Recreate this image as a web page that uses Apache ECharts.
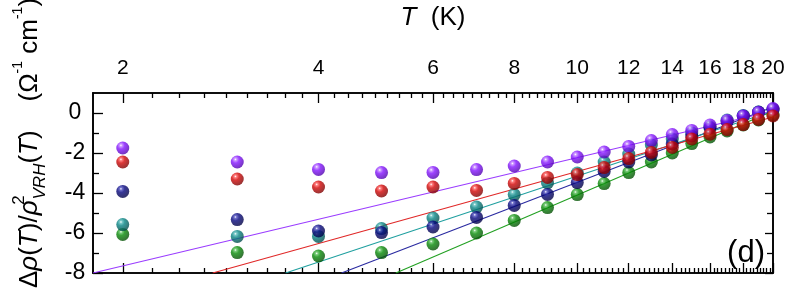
<!DOCTYPE html>
<html><head><meta charset="utf-8">
<script src="https://cdn.jsdelivr.net/npm/echarts@6/dist/echarts.min.js"></script>
<style>html,body{margin:0;padding:0;background:#fff}#c{width:789px;height:289px}</style>
</head><body><div id="c"></div>
<script>
// ---- data (T in K) ----
const temps = [2,3,4,5,6,7,8,9,10,11,12,13,14,15,16,17,18,19,20];
const purpleVals = [-1.75,-2.45,-2.82,-2.98,-2.97,-2.83,-2.65,-2.45,-2.2,-1.95,-1.67,-1.38,-1.08,-0.87,-0.6,-0.38,-0.15,0.03,0.22];
const redVals    = [-2.45,-3.3,-3.7,-3.9,-3.7,-3.87,-3.52,-3.22,-3.08,-2.73,-2.28,-1.97,-1.72,-1.3,-1.06,-0.83,-0.58,-0.32,-0.15];
const tealVals   = [-5.58,-6.17,-6.17,-5.78,-5.25,-4.7,-4.08,-3.5,-3.0,-2.45,-2.05,-1.6,-1.3,-1.0,-0.7,-0.35,-0.12,0.05,0.15];
const navyVals   = [-3.92,-5.33,-5.9,-5.98,-5.7,-5.22,-4.62,-4.07,-3.48,-2.92,-2.45,-2.1,-1.55,-1.15,-0.75,-0.45,-0.15,0.05,0.2];
const greenVals  = [-6.07,-6.98,-7.15,-6.98,-6.55,-6.0,-5.37,-4.73,-4.08,-3.53,-2.98,-2.45,-2.0,-1.53,-1.2,-0.9,-0.6,-0.35,-0.1];
// fitted straight lines (T, value) end points
const fitPurple = [[1.8,-8],[20,0.1]];
const fitRed    = [[2.75,-8],[20,-0.2]];
const fitTeal   = [[3.56,-8],[20,0.1]];
const fitNavy   = [[4.34,-8],[20,0.3]];
const fitGreen  = [[5.26,-8],[20,0.1]];
// ticks
const xTickLabels = [2,4,6,8,10,12,14,16,18,20];
const xMin = 1.8, xMax = 20;
const yMajorTicks = [0,-2,-4,-6,-8];
const yMinorTicks = [-1,-3,-5,-7];
const yMin = -8, yMax = 1;

const L = v => Math.log10(v);
const xMajor = xTickLabels.map(L);
const xMinor = [];
for (let k = 0; k < xTickLabels.length - 1; k++) {
  for (let j = 1; j <= 8; j++) xMinor.push(L(xTickLabels[k] + j * (xTickLabels[k+1]-xTickLabels[k]) / 9));
}
const FONT = 'Liberation Sans';
const black = '#000';

function xAx(pos, ticks, len, withLabels, extra) {
  return Object.assign({
    type: 'value', position: pos, min: L(xMin), max: L(xMax),
    axisLine: {show: true, onZero: false, lineStyle: {color: black, width: 1.6}},
    axisTick: {show: true, inside: true, length: len, customValues: ticks, lineStyle: {color: black, width: 1.3}},
    axisLabel: withLabels ? {show: true, customValues: xMajor, margin: 14, fontSize: 21, fontFamily: FONT, color: black,
      formatter: v => String(Math.round(Math.pow(10, v)))} : {show: false},
    splitLine: {show: false}
  }, extra || {});
}
function yAx(pos, ticks, len, withLabels) {
  return {
    type: 'value', position: pos, min: yMin, max: yMax,
    axisLine: {show: true, onZero: false, lineStyle: {color: black, width: 1.6}},
    axisTick: {show: true, inside: true, length: len, customValues: ticks, lineStyle: {color: black, width: 1.3}},
    axisLabel: withLabels ? {show: true, customValues: yMajorTicks, margin: 18, align: 'center', fontSize: 23, fontFamily: FONT, color: black} : {show: false},
    splitLine: {show: false}
  };
}

function ball(light, base, dark) {
  return {type: 'radial', x: 0.36, y: 0.3, r: 0.75, colorStops: [
    {offset: 0, color: '#ffffff'}, {offset: 0.13, color: light}, {offset: 0.38, color: base}, {offset: 1, color: dark}]};
}
function pts(vals) { return temps.map((t, i) => [L(t), vals[i]]); }
function fit(p) { return p.map(d => [L(d[0]), d[1]]); }
function lineSeries(p, color) {
  return {type: 'line', data: fit(p), symbol: 'none', clip: true, z: 2, silent: true,
    lineStyle: {color: color, width: 1.1}};
}
function dotSeries(vals, grad) {
  return {type: 'scatter', data: pts(vals), symbol: 'circle', symbolSize: 13, z: 3, clip: false,
    itemStyle: {color: grad, borderWidth: 0}};
}

const chart = echarts.init(document.getElementById('c'), null, {renderer: 'canvas'});
chart.setOption({
  animation: false,
  backgroundColor: '#fff',
  grid: {left: 93, right: 16, top: 93, bottom: 16, containLabel: false, outerBoundsMode: 'none'},
  xAxis: [
    xAx('top', xMajor, 10, true, {name: '{i|T}  (K)', nameLocation: 'middle', nameGap: 62,
      nameTextStyle: {fontSize: 26, fontFamily: FONT, color: black, rich: {i: {fontStyle: 'italic', fontSize: 26, fontFamily: FONT, color: black}}}}),
    xAx('top', xMinor, 5, false),
    xAx('bottom', xMajor, 10, false),
    xAx('bottom', xMinor, 5, false)
  ],
  yAxis: [
    yAx('left', yMajorTicks, 10, true),
    yAx('left', yMinorTicks, 6, false),
    yAx('right', yMajorTicks, 8, false),
    yAx('right', yMinorTicks, 6, false)
  ],
  series: [
    lineSeries(fitGreen, '#22a022'),
    lineSeries(fitNavy, '#2a2aa0'),
    lineSeries(fitTeal, '#20a0a0'),
    lineSeries(fitPurple, '#9a3cff'),
    lineSeries(fitRed, '#e02828'),
    dotSeries(greenVals, ball('#5cc05c', '#078a07', '#024a02')),
    dotSeries(tealVals, ball('#5cbcbc', '#078484', '#024646')),
    dotSeries(navyVals, ball('#5050c0', '#06067e', '#010140')),
    dotSeries(purpleVals, ball('#c080ff', '#8414ff', '#4c00a8')),
    dotSeries(redVals, ball('#ff6060', '#d20606', '#760000'))
  ],
  graphic: [
    {type: 'text', x: 30, y: 143, rotation: Math.PI / 2, z: 10,
      style: {
        text: '{n|Δ}{i|ρ}{n|(}{i|T}{n|)/}{i|ρ}{sup|2}{sub|VRH}{n|(}{i|T}{n|)    (Ω}{e|-1}{n| cm}{e|-1}{n|)}',
        align: 'center', verticalAlign: 'middle', fill: black,
        rich: {
          n: {fontSize: 26, fontFamily: FONT, fill: black, lineHeight: 38},
          i: {fontSize: 26, fontFamily: FONT, fontStyle: 'italic', fill: black, lineHeight: 38},
          sup: {fontSize: 17, fontFamily: FONT, fill: black, verticalAlign: 'top', lineHeight: 22, width: 1},
          sub: {fontSize: 17, fontFamily: FONT, fontStyle: 'italic', fill: black, verticalAlign: 'bottom', lineHeight: 22},
          e: {fontSize: 14, fontFamily: FONT, fill: black, verticalAlign: 'top', lineHeight: 26}
        }
      }},
    {type: 'text', right: 24, bottom: 20, z: 10,
      style: {text: '(d)', fontSize: 31, fontFamily: FONT, fill: black}}
  ]
});
</script>
</body></html>
